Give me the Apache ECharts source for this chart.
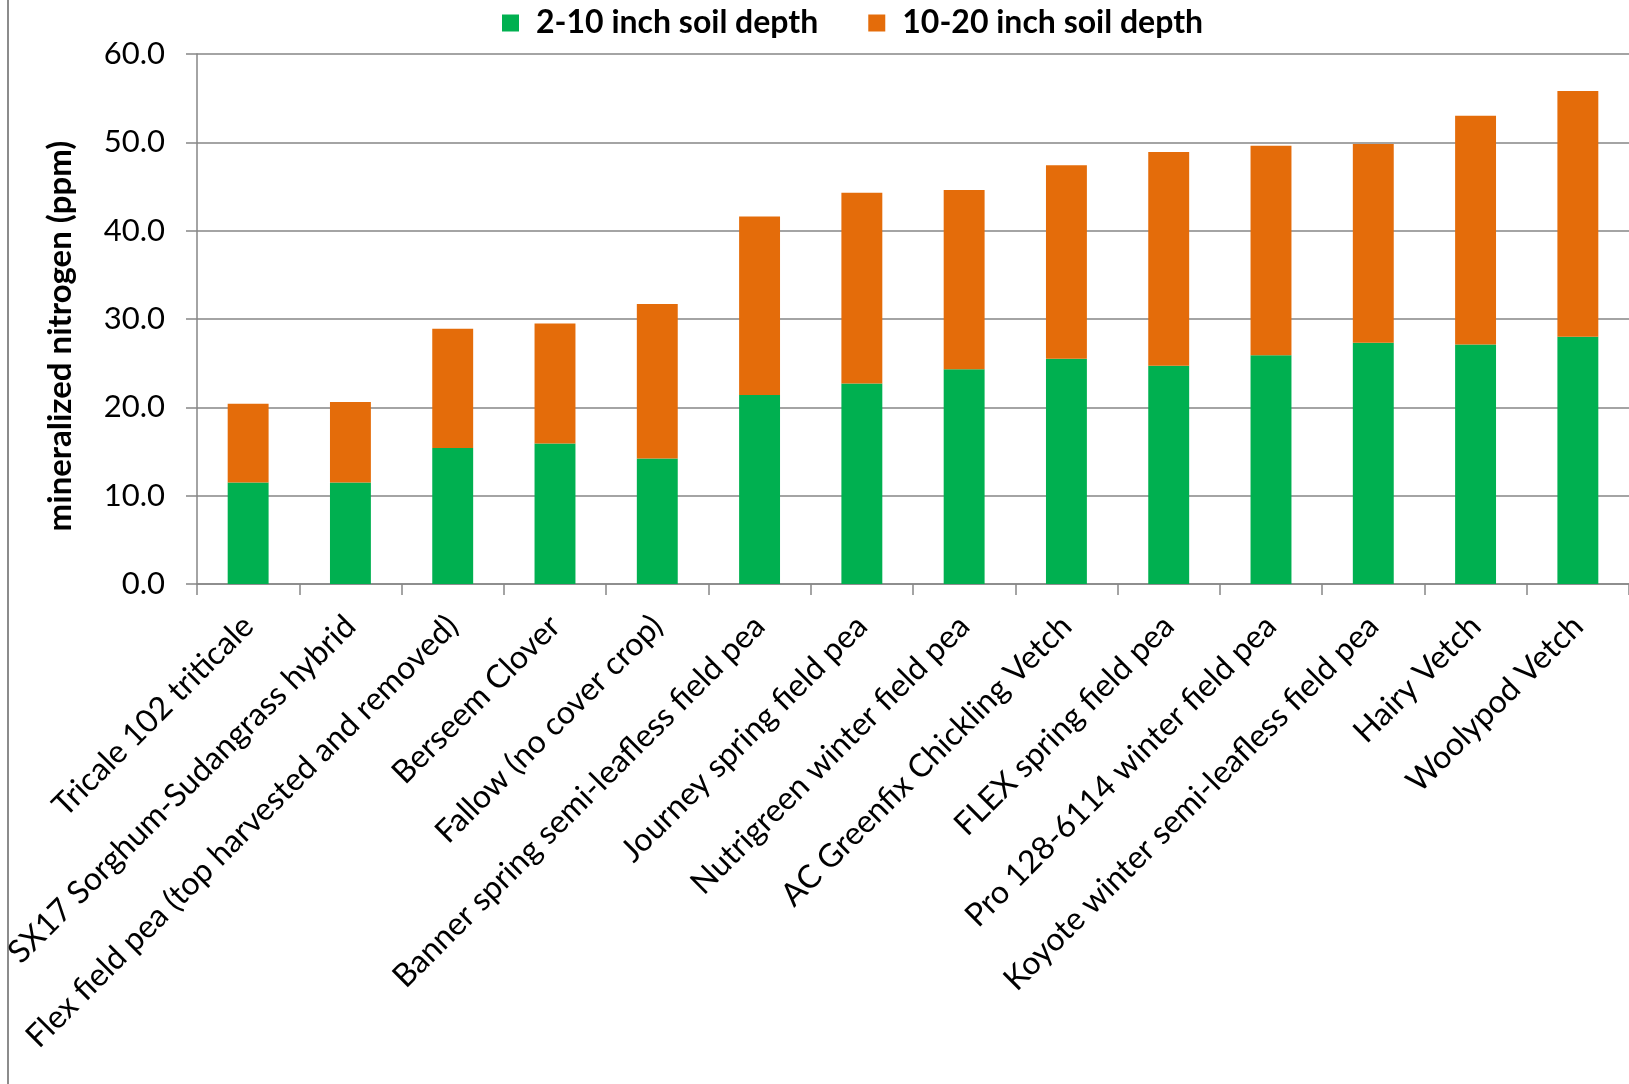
<!DOCTYPE html>
<html>
<head>
<meta charset="utf-8">
<script src="https://cdn.jsdelivr.net/npm/echarts@6/dist/echarts.min.js"></script>
<style>
html,body{margin:0;padding:0;background:#fff;}
#chart{width:1629px;height:1084px;}
</style>
</head>
<body>
<div id="chart"></div>
<script>
const categories = [
  "Tricale 102 triticale",
  "SX17 Sorghum-Sudangrass hybrid",
  "Flex field pea (top harvested and removed)",
  "Berseem Clover",
  "Fallow (no cover crop)",
  "Banner spring semi-leafless field pea",
  "Journey spring field pea",
  "Nutrigreen winter field pea",
  "AC Greenfix Chickling Vetch",
  "FLEX spring field pea",
  "Pro 128-6114 winter field pea",
  "Koyote winter semi-leafless field pea",
  "Hairy Vetch",
  "Woolypod Vetch"
];
const depth2to10 = [11.5, 11.5, 15.4, 15.9, 14.2, 21.4, 22.7, 24.3, 25.5, 24.7, 25.9, 27.3, 27.1, 28.0];
const depth10to20 = [8.9, 9.1, 13.5, 13.6, 17.5, 20.2, 21.6, 20.3, 21.9, 24.2, 23.7, 22.5, 25.9, 27.8];
const seriesNames = ["2-10 inch soil depth", "10-20 inch soil depth"];
const yTicks = [0, 10, 20, 30, 40, 50, 60];

const FONT = "Lato, 'Open Sans', sans-serif";
const chart = echarts.init(document.getElementById('chart'), null, {renderer: 'canvas'});
chart.setOption({
  backgroundColor: '#ffffff',
  animation: false,
  textStyle: {fontFamily: FONT},
  legend: {
    data: seriesNames,
    left: 497,
    top: 2,
    itemWidth: 17,
    itemHeight: 17,
    itemGap: 50,
    icon: 'rect',
    textStyle: {fontFamily: FONT, fontSize: 32, fontWeight: 'bold', color: '#000', padding: [0,0,0,12]}
  },
  grid: {left: 197, right: 0, top: 54, bottom: 500, containLabel: false},
  xAxis: {
    type: 'category',
    data: categories,
    axisLine: {lineStyle: {color: '#868686', width: 1.5}},
    axisTick: {show: true, alignWithLabel: false, length: 11, lineStyle: {color: '#868686', width: 1.5}},
    axisLabel: {interval: 0, rotate: 45, fontSize: 32, fontFamily: FONT, color: '#000', margin: 37}
  },
  yAxis: {
    type: 'value',
    min: yTicks[0],
    max: yTicks[yTicks.length - 1],
    interval: 10,
    name: 'mineralized nitrogen (ppm)',
    nameLocation: 'middle',
    nameGap: 120,
    nameRotate: 90,
    nameTextStyle: {fontFamily: FONT, fontSize: 33, fontWeight: 'bold', color: '#000', padding: [0, 34, 0, 0]},
    axisLine: {show: true, lineStyle: {color: '#868686', width: 1.5}},
    axisTick: {show: true, length: 11, lineStyle: {color: '#868686', width: 1.5}},
    splitLine: {lineStyle: {color: '#868686', width: 1.5}},
    axisLabel: {fontSize: 31, fontFamily: FONT, color: '#000', margin: 32, formatter: v => v.toFixed(1)}
  },
  series: [
    {name: seriesNames[0], type: 'bar', stack: 'n', data: depth2to10, barWidth: '40%', itemStyle: {color: '#00B050'}},
    {name: seriesNames[1], type: 'bar', stack: 'n', data: depth10to20, barWidth: '40%', itemStyle: {color: '#E46C0A'}}
  ],
  graphic: [
    {type: 'line', shape: {x1: 8, y1: 0, x2: 8, y2: 1084}, style: {stroke: '#8c8c8c', lineWidth: 2}}
  ]
});
</script>
</body>
</html>
